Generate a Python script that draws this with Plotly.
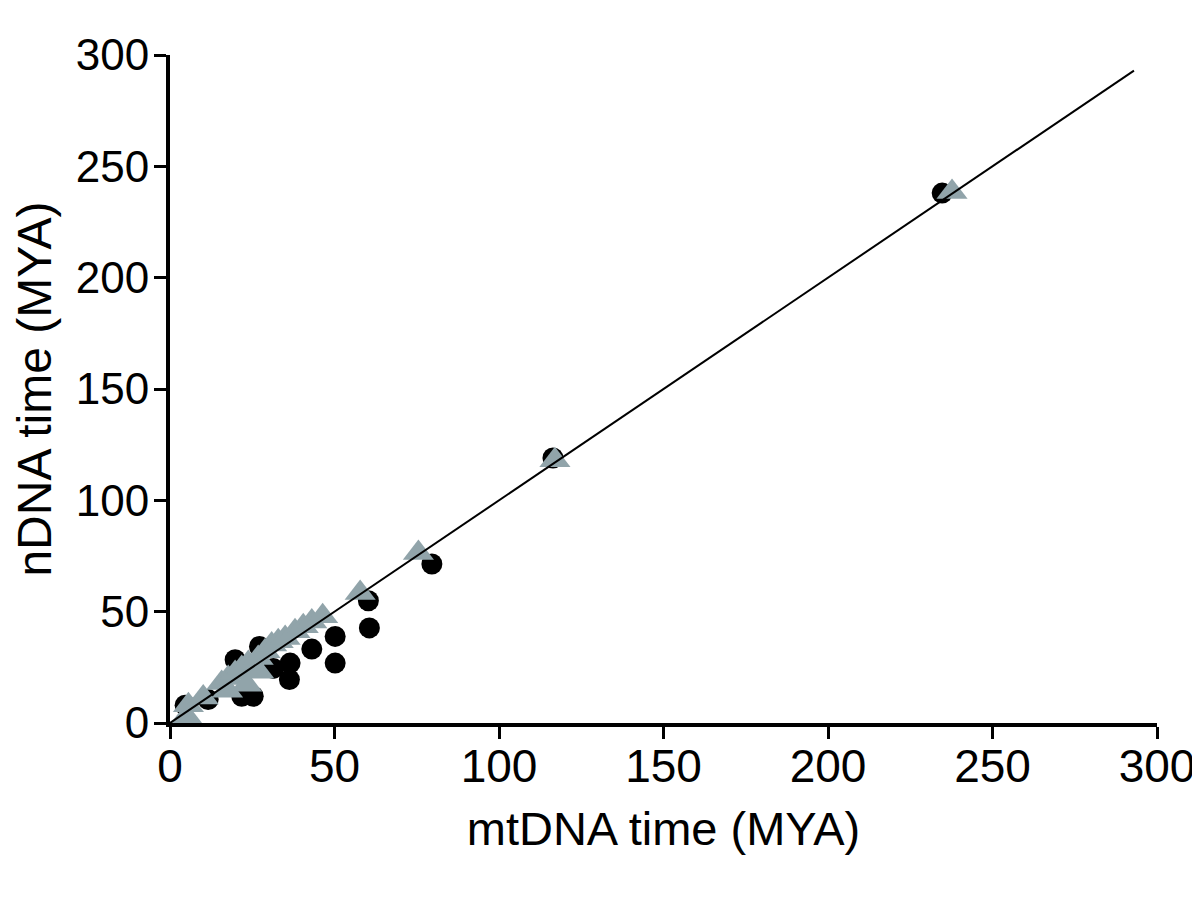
import plotly.graph_objects as go

# Black circles (series 1)
circ_x = [4.6, 11.6, 19.8, 21.8, 25.3, 27.2, 31.4, 36.3, 36.5, 43.1, 50.2, 50.2, 60.3, 60.6, 79.6, 116.4, 234.7]
circ_y = [8.0, 10.5, 28.4, 12.0, 12.0, 34.4, 24.5, 19.5, 26.9, 33.2, 38.9, 26.9, 54.9, 42.7, 71.4, 119.0, 238.0]

# Gray triangles (series 2)
tri_x = [5.0, 5.6, 10.1, 15.7, 17.5, 17.7, 19.8, 21.8, 23.3, 23.8, 26.8, 27.0, 28.9, 30.9, 32.9, 35.0, 38.0, 40.5, 43.1, 46.4, 57.8, 75.5, 117.0, 237.7]
tri_y = [3.0, 8.0, 11.5, 18.0, 14.5, 20.2, 22.5, 24.7, 17.2, 26.9, 29.2, 23.0, 32.2, 35.2, 36.7, 38.2, 41.2, 43.4, 45.6, 47.9, 58.4, 76.3, 118.0, 238.5]

# Identity line
line_x = [0, 293]
line_y = [0, 293]

tick_vals = [0, 50, 100, 150, 200, 250, 300]
tick_text = ["0", "50", "100", "150", "200", "250", "300"]

fig = go.Figure()
fig.add_trace(go.Scatter(x=circ_x, y=circ_y, mode="markers",
                         marker=dict(symbol="circle", size=21, color="black"),
                         cliponaxis=False, showlegend=False))
fig.add_trace(go.Scatter(x=tri_x, y=tri_y, mode="markers",
                         marker=dict(symbol="triangle-up", size=27, color="#91a4aa"),
                         cliponaxis=False, showlegend=False))
fig.add_trace(go.Scatter(x=line_x, y=line_y, mode="lines",
                         line=dict(color="black", width=2),
                         cliponaxis=False, showlegend=False))

regular = "Liberation Sans, Arial, sans-serif"

fig.update_layout(
    width=1200, height=904,
    margin=dict(l=162, r=51, t=47, b=189),
    paper_bgcolor="white", plot_bgcolor="white",
    xaxis=dict(range=[0, 300], tickvals=tick_vals, ticktext=tick_text,
               showline=True, linecolor="black", linewidth=4,
               ticks="outside", ticklen=12, tickwidth=3, tickcolor="black",
               showgrid=False, zeroline=False, automargin=False,
               ticklabeloverflow="allow", ticklabelstandoff=-12,
               tickfont=dict(family=regular, size=46, color="black"),
               title=dict(text="mtDNA time (MYA)", standoff=22,
                          font=dict(family=regular, size=47, color="black"))),
    yaxis=dict(range=[0, 300], tickvals=tick_vals, ticktext=tick_text,
               showline=True, linecolor="black", linewidth=4,
               ticks="outside", ticklen=12, tickwidth=3, tickcolor="black",
               showgrid=False, zeroline=False, automargin=False,
               ticklabeloverflow="allow", ticklabelstandoff=-4,
               tickfont=dict(family=regular, size=44, color="black"),
               title=dict(text="nDNA time (MYA)", standoff=10,
                          font=dict(family=regular, size=48, color="black"))),
)

fig.write_html("out.html")
